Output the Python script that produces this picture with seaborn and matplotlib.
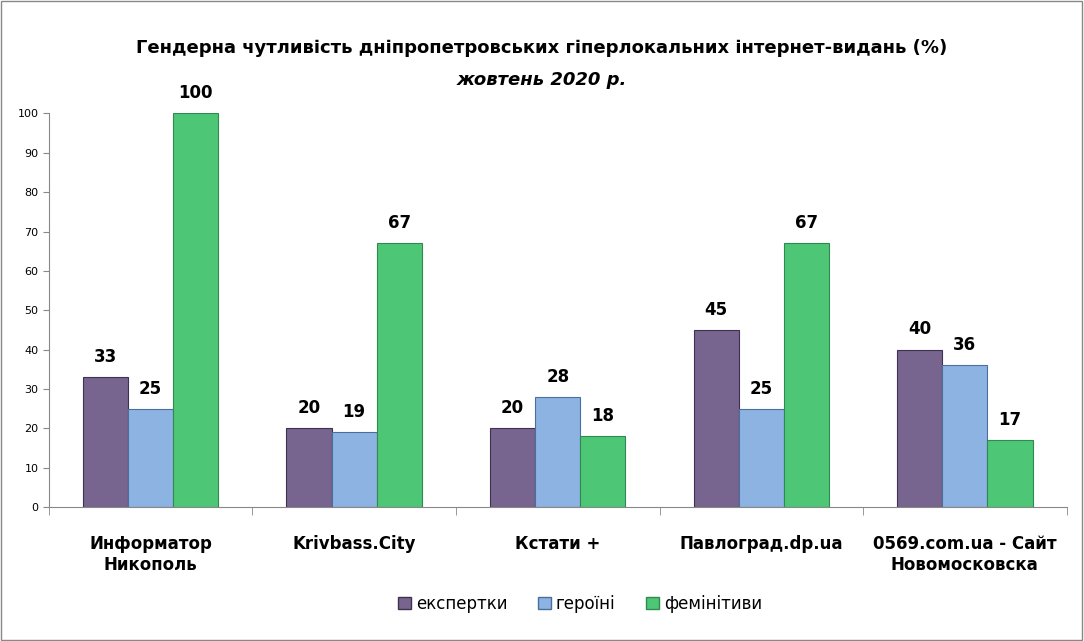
import seaborn as sns
import pandas as pd
import matplotlib
matplotlib.use('Agg')
import matplotlib.pyplot as plt
from matplotlib.patches import Rectangle

sites = ['Информатор\nНикополь', 'Krivbass.City', 'Кстати +', 'Павлоград.dp.ua',
         '0569.com.ua - Сайт\nНовомосковска']
series = ['експертки', 'героїні', 'фемінітиви']
experts = [33, 20, 20, 45, 40]
heroines = [25, 19, 28, 25, 36]
feminitives = [100, 67, 18, 67, 17]

colors = ['#77648F', '#8DB3E2', '#4DC776']
edges = ['#3F3150', '#4A6F9C', '#2E8A50']


def build_frame():
    rows = []
    for name, vals in zip(series, [experts, heroines, feminitives]):
        for site, v in zip(sites, vals):
            rows.append({'site': site, 'series': name, 'value': v})
    return pd.DataFrame(rows)


def plot_chart(data):
    sns.set_style('white')
    plt.rcParams['font.family'] = ['DejaVu Sans']
    plt.rcParams['text.color'] = 'black'
    plt.rcParams['xtick.color'] = 'black'
    plt.rcParams['ytick.color'] = 'black'
    fig = plt.figure(figsize=(10.84, 6.41), dpi=100)
    ax = fig.add_axes([0.045, 0.209, 0.939, 0.614])
    sns.barplot(data=data, x='site', y='value', hue='series', palette=colors,
                saturation=1, width=0.665, gap=0, ax=ax, legend=False)
    for i, container in enumerate(ax.containers):
        for bar in container:
            bar.set_edgecolor(edges[i])
            bar.set_linewidth(0.8)
        ax.bar_label(container, fmt='%d', padding=8, fontsize=12, fontweight='bold')

    ax.set_ylim(0, 100)
    ax.set_xlim(-0.5, 4.5)
    ax.set_yticks(range(0, 101, 10))
    ax.tick_params(axis='y', labelsize=8, length=4, direction='out', left=True, color='#888888')
    ax.set_xticks(range(5))
    ax.set_xticklabels(sites, fontsize=12, fontweight='bold')
    ax.tick_params(axis='x', length=0, pad=20)
    ax.set_xticks([-0.5, 0.5, 1.5, 2.5, 3.5, 4.5], minor=True)
    ax.tick_params(axis='x', which='minor', length=6, color='#888888', bottom=True)
    ax.set_xlabel('')
    ax.set_ylabel('')
    for side in ['top', 'right']:
        ax.spines[side].set_visible(False)
    for side in ['left', 'bottom']:
        ax.spines[side].set_color('#888888')

    fig.text(0.5, 0.918, 'Гендерна чутливість дніпропетровських гіперлокальних інтернет-видань (%)',
             ha='center', fontsize=13, fontweight='bold')
    fig.text(0.5, 0.868, 'жовтень 2020 р.', ha='center', fontsize=13,
             fontweight='bold', style='italic')

    handles = [Rectangle((0, 0), 1, 1, facecolor=c, edgecolor=e) for c, e in zip(colors, edges)]
    fig.legend(handles, series, loc='center', bbox_to_anchor=(0.535, 0.058), ncol=3,
               frameon=False, fontsize=12, handlelength=0.8, handleheight=0.8,
               handletextpad=0.3, columnspacing=1.8)

    fig.patches.append(Rectangle((0.001, 0.002), 0.997, 0.996, transform=fig.transFigure,
                                 fill=False, edgecolor='#888888', linewidth=1))
    fig.savefig('out.png', dpi=100)


if __name__ == '__main__':
    plot_chart(build_frame())
